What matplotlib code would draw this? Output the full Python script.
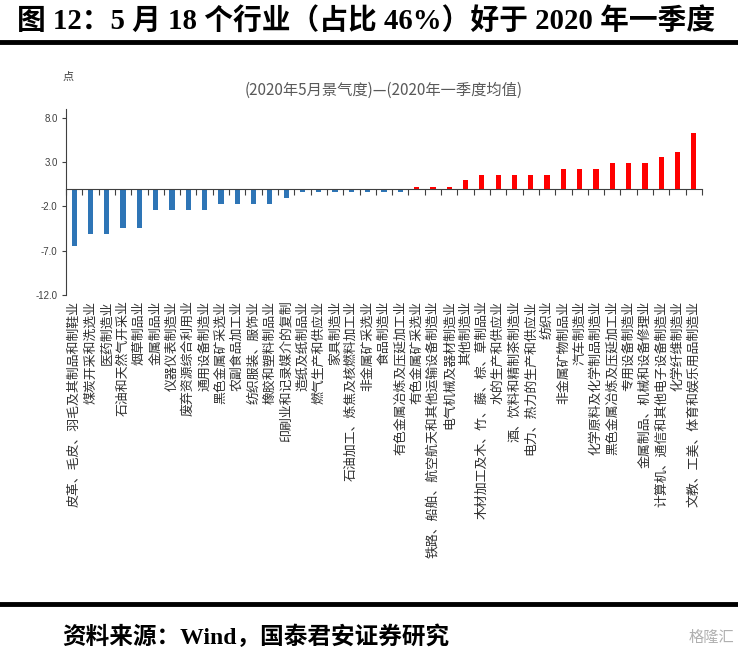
import numpy as np
import matplotlib
matplotlib.use('Agg')
from matplotlib import pyplot as plt
from matplotlib.lines import Line2D

plt.rcParams['font.family'] = ['Noto Sans CJK SC', 'DejaVu Sans']

# 行业名称（按差值从小到大）
industries = [
    "皮革、毛皮、羽毛及其制品和制鞋业", "煤炭开采和洗选业", "医药制造业",
    "石油和天然气开采业", "烟草制品业", "金属制品业", "仪器仪表制造业",
    "废弃资源综合利用业", "通用设备制造业", "黑色金属矿采选业",
    "农副食品加工业", "纺织服装、服饰业", "橡胶和塑料制品业",
    "印刷业和记录媒介的复制", "造纸及纸制品业", "燃气生产和供应业",
    "家具制造业", "石油加工、炼焦及核燃料加工业", "非金属矿采选业",
    "食品制造业", "有色金属冶炼及压延加工业", "有色金属矿采选业",
    "铁路、船舶、航空航天和其他运输设备制造业", "电气机械及器材制造业",
    "其他制造业", "木材加工及木、竹、藤、棕、草制品业", "水的生产和供应业",
    "酒、饮料和精制茶制造业", "电力、热力的生产和供应业", "纺织业",
    "非金属矿物制品业", "汽车制造业", "化学原料及化学制品制造业",
    "黑色金属冶炼及压延加工业", "专用设备制造业", "金属制品、机械和设备修理业",
    "计算机、通信和其他电子设备制造业", "化学纤维制造业",
    "文教、工美、体育和娱乐用品制造业",
]
# (2020年5月景气度)-(2020年一季度均值)
diff = [
    -6.5, -5.1, -5.1, -4.4, -4.4, -2.4, -2.4, -2.4, -2.4, -1.7,
    -1.7, -1.7, -1.7, -1.1, -0.4, -0.4, -0.4, -0.4, -0.4, -0.4,
    -0.4, 0.2, 0.2, 0.2, 1.0, 1.5, 1.5, 1.5, 1.5, 1.5,
    2.2, 2.2, 2.2, 2.9, 2.9, 2.9, 3.6, 4.2, 6.3,
]
yticks = [-12.0, -7.0, -2.0, 3.0, 8.0]

W, H = 738, 666
fig = plt.figure(figsize=(W / 100, H / 100), dpi=100)
ax = fig.add_axes([66 / W, 1 - 295 / H, (702 - 66) / W, (295 - 109) / H])

x = np.arange(len(diff))
vals = np.array(diff)
colors = np.where(vals < 0, '#2E75B6', '#FF0000')
ax.bar(x, vals, width=0.32, color=colors, zorder=3)

ax.set_xlim(-0.5, len(diff) - 0.5)
ax.set_ylim(-12, 9)

# x axis line at zero, ticks between categories
ax.spines['bottom'].set_position(('data', 0))
ax.spines['bottom'].set_color('#404040')
ax.spines['bottom'].set_zorder(4)
ax.spines['top'].set_visible(False)
ax.spines['right'].set_visible(False)
ax.spines['left'].set_color('#404040')
ax.set_xticks(np.arange(len(diff) + 1) - 0.5)
ax.set_xticklabels([])
ax.tick_params(axis='x', direction='out', length=4, width=0.8, color='#404040')

ax.set_yticks(yticks)
ax.set_yticklabels([f"{v:.1f}" for v in yticks], fontsize=7, color='#404040',
                   family=['Liberation Sans', 'DejaVu Sans'])
ax.tick_params(axis='y', direction='out', length=3, width=0.8, color='#404040', pad=3)

# category labels placed below the plot area (label position "low")
trans = ax.get_xaxis_transform()
for i, name in enumerate(industries):
    ax.text(i, -0.03, name, transform=trans, rotation=90, ha='center', va='top',
            fontsize=9.3, color='#303030')

ax.text(0.5, 1.1, "(2020年5月景气度)—(2020年一季度均值)", transform=ax.transAxes,
        ha='center', va='center', fontsize=11, color='#595959')
fig.text(63 / W, 1 - 77 / H, "点", fontsize=8, color='#404040', ha='left', va='center')

# title and frame lines
serif_cjk = ['Liberation Serif', 'Noto Sans CJK SC']
fig.text(17 / W, 1 - 21 / H, "图 12：5 月 18 个行业（占比 46%）好于 2020 年一季度",
         fontsize=20.7, fontweight='bold', family=serif_cjk, ha='left', va='center')
fig.add_artist(Line2D([0, 1], [1 - 42 / H, 1 - 42 / H], color='black', lw=3.5,
                      transform=fig.transFigure))
fig.add_artist(Line2D([0, 1], [1 - 604 / H, 1 - 604 / H], color='black', lw=3.5,
                      transform=fig.transFigure))
fig.text(62 / W, 1 - 637 / H, "资料来源：Wind，国泰君安证券研究", fontsize=17,
         fontweight='bold', family=serif_cjk, ha='left', va='center')
fig.text(734 / W, 1 - 637 / H, "格隆汇", fontsize=11, color='#B0B0B0',
         ha='right', va='center')

fig.savefig("out.png", dpi=100)
